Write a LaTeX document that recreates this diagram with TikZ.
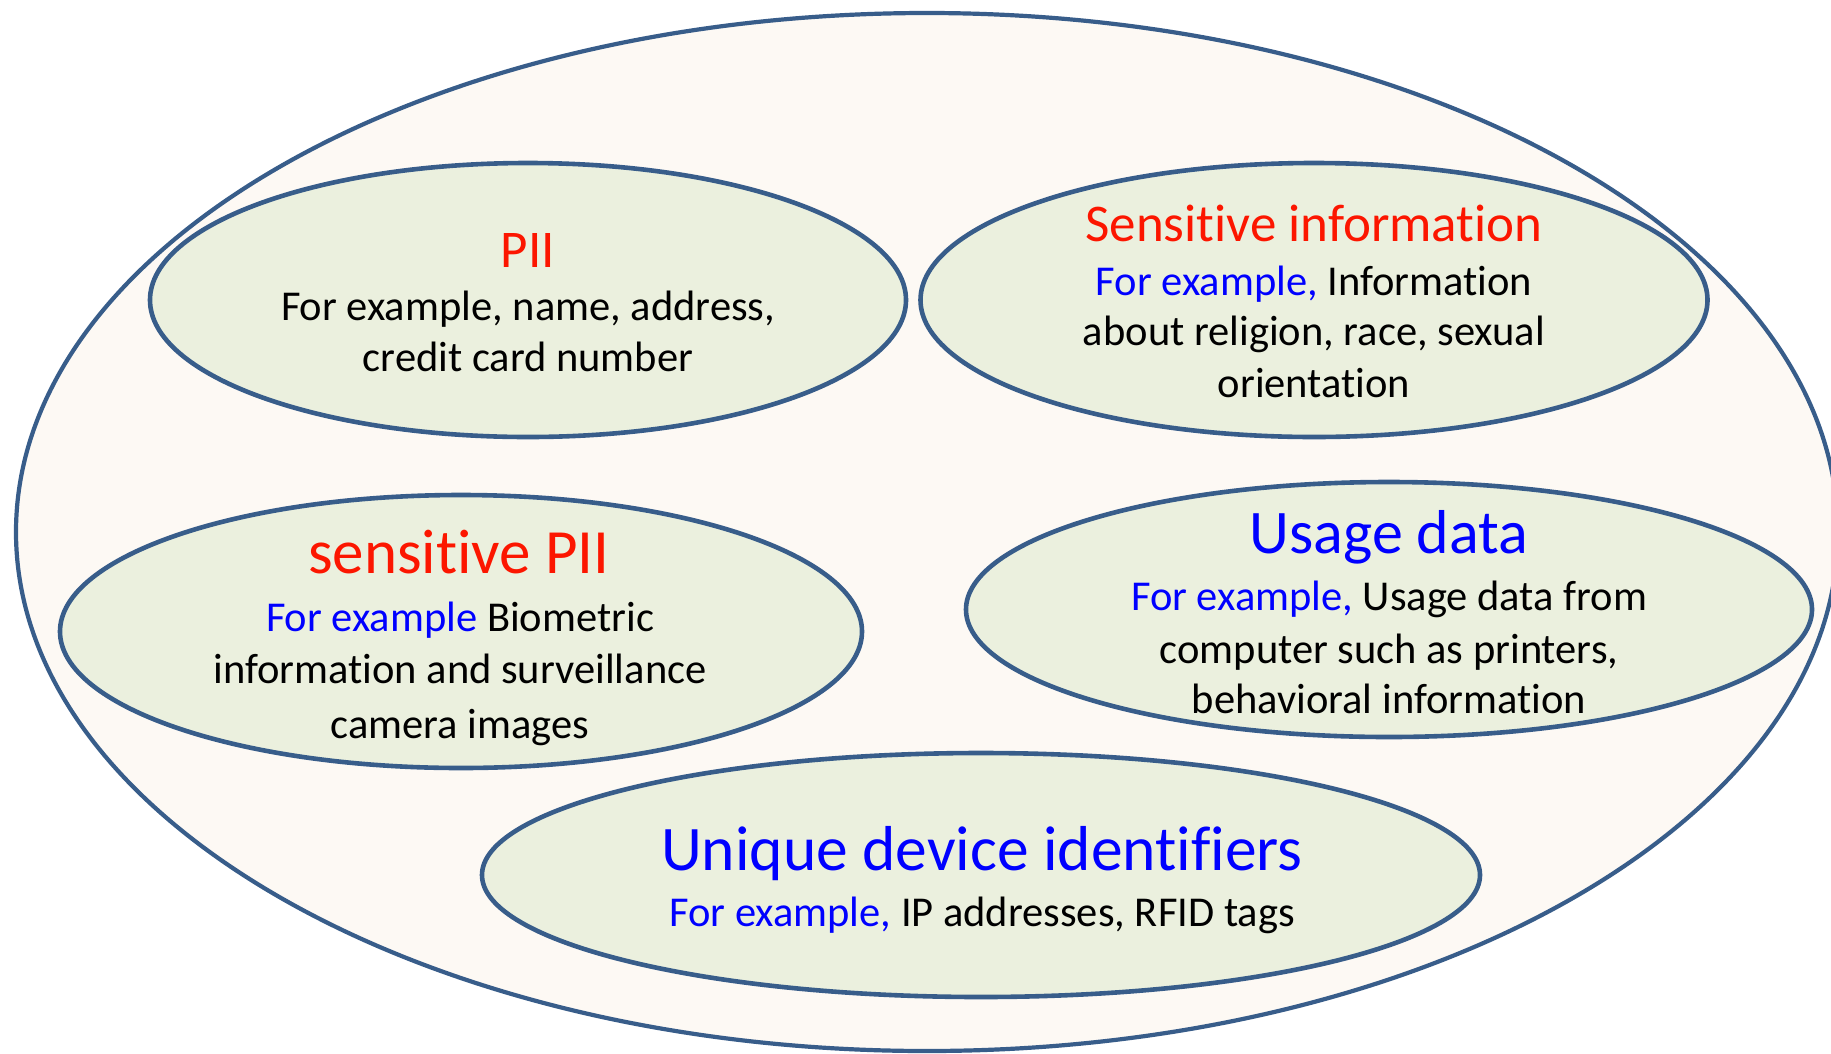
\documentclass[tikz,border=0pt]{standalone}
\usepackage{fontspec}
\setmainfont[Ligatures={NoCommon}]{Carlito}
\usetikzlibrary{shapes.geometric}

\definecolor{rimblue}{RGB}{56,93,138}
\definecolor{sagefill}{RGB}{235,240,222}
\definecolor{creamfill}{RGB}{253,249,244}
\definecolor{headred}{RGB}{252,22,0}
\definecolor{exblue}{RGB}{0,0,255}

\tikzset{
  blob/.style={ellipse, draw=rimblue, line width=4.6pt, fill=sagefill, inner sep=0pt, outer sep=0pt},
  outerblob/.style={ellipse, draw=rimblue, line width=4.2pt, fill=creamfill, inner sep=0pt, outer sep=0pt},
  line/.style={anchor=base, inner sep=0pt, font=\fontsize{42.5}{51}\selectfont},
  head/.style={anchor=base, inner sep=0pt},
}

\begin{document}
\begin{tikzpicture}[x=1pt, y=-1pt]
\useasboundingbox (0,0) rectangle (1831,1053);
\fill[white] (0,0) rectangle (1831,1053);

% enclosing category
\node[outerblob, minimum width=1822pt, minimum height=1038pt] (all) at (927,532) {};

% inner categories
\node[blob, minimum width=756pt, minimum height=274pt] (pii) at (528,300) {};
\node[blob, minimum width=787pt, minimum height=274pt] (sens) at (1314,300) {};
\node[blob, minimum width=802pt, minimum height=273pt] (spii) at (461,631.5) {};
\node[blob, minimum width=846pt, minimum height=255pt] (usage) at (1389,609.5) {};
\node[blob, minimum width=998pt, minimum height=244pt] (udid) at (981,875) {};

% PII
\node[head, font=\fontsize{53}{64}\selectfont, text=headred] (pii-t) at (528,267) {PII};
\node[line] (pii-a) at (528,320) {For example, name, address,};
\node[line] (pii-b) at (528,371) {credit card number};

% Sensitive information
\node[head, font=\fontsize{53}{64}\selectfont, text=headred] (sens-t) at (1314,241) {Sensitive information};
\node[line] (sens-a) at (1314,295) {\textcolor{exblue}{For example,} Information};
\node[line] (sens-b) at (1314,345) {about religion, race, sexual};
\node[line] (sens-c) at (1314,397) {orientation};

% sensitive PII
\node[head, font=\fontsize{63}{75}\selectfont, text=headred] (spii-t) at (459,573) {sensitive PII};
\node[line] (spii-a) at (460,631) {\textcolor{exblue}{For example} Biometric};
\node[line] (spii-b) at (460,683) {information and surveillance};
\node[line] (spii-c) at (460,738) {camera images};

% Usage data
\node[head, font=\fontsize{62}{74}\selectfont, text=exblue] (usage-t) at (1389,553) {Usage data};
\node[line] (usage-a) at (1389,610) {\textcolor{exblue}{For example,} Usage data from};
\node[line] (usage-b) at (1389,663) {computer such as printers,};
\node[line] (usage-c) at (1389,713) {behavioral information};

% Unique device identifiers
\node[head, font=\fontsize{63.5}{76}\selectfont, text=exblue] (udid-t) at (982,870) {Unique device identifiers};
\node[line] (udid-a) at (982,926) {\textcolor{exblue}{For example,} IP addresses, RFID tags};
\end{tikzpicture}
\end{document}
